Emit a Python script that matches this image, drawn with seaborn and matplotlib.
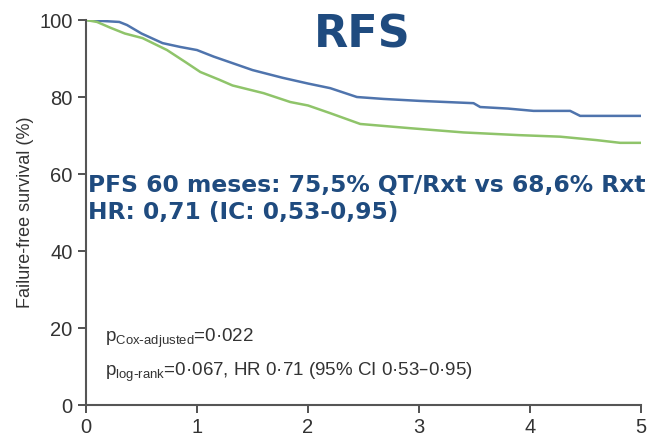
import pandas as pd
import matplotlib
matplotlib.use("Agg")
import matplotlib.pyplot as plt
import seaborn as sns

# Kaplan-Meier curves (years, % failure-free)
qt_rxt_time = [0, 0.30, 0.37, 0.50, 0.69, 0.85, 1.00, 1.15, 1.32, 1.50, 1.77, 2.00,
               2.20, 2.44, 2.68, 3.00, 3.49, 3.55, 3.80, 4.03, 4.36, 4.45, 5.00]
qt_rxt_surv = [100, 99.5, 98.7, 96.5, 94.0, 93.0, 92.2, 90.5, 88.8, 87.0, 85.0, 83.5,
               82.3, 80.0, 79.5, 79.0, 78.4, 77.4, 77.0, 76.4, 76.4, 75.1, 75.1]
rxt_time = [0, 0.10, 0.22, 0.35, 0.51, 0.73, 0.90, 1.03, 1.20, 1.32, 1.60, 1.84,
            2.00, 2.20, 2.47, 2.92, 3.40, 3.90, 4.27, 4.60, 4.81, 5.00]
rxt_surv = [100, 99.5, 98.0, 96.5, 95.3, 92.2, 89.0, 86.5, 84.5, 83.0, 81.0, 78.7,
            77.8, 75.8, 73.0, 71.9, 70.8, 70.1, 69.7, 68.8, 68.1, 68.1]

x_ticks = [0, 1, 2, 3, 4, 5]
y_ticks = [0, 20, 40, 60, 80, 100]

df = pd.concat([
    pd.DataFrame({"time": qt_rxt_time, "surv": qt_rxt_surv, "arm": "QT/Rxt"}),
    pd.DataFrame({"time": rxt_time, "surv": rxt_surv, "arm": "Rxt"}),
])

sns.set_theme(style="ticks")
plt.rcParams["font.family"] = ["Liberation Sans", "DejaVu Sans"]

fig = plt.figure(figsize=(6.51, 4.40), dpi=100)
ax = fig.add_axes([0.132, 0.0795, 0.853, 0.875])

palette = {"QT/Rxt": "#4f74ad", "Rxt": "#8fc46a"}
sns.lineplot(data=df, x="time", y="surv", hue="arm", palette=palette,
             linewidth=1.8, legend=False, ax=ax)

ax.set_xlim(0, 5)
ax.set_ylim(0, 100)
ax.set_xticks(x_ticks)
ax.set_yticks(y_ticks)
ax.tick_params(labelsize=14.5, colors="#333333", length=6, width=1.2)
ax.set_xlabel("")
ax.set_ylabel("Failure-free survival (%)", fontsize=13, color="#333333")
for side in ["left", "bottom"]:
    ax.spines[side].set_color("#555555")
    ax.spines[side].set_linewidth(1.5)
sns.despine(ax=ax)

blue = "#1f4b7f"
fig.text(0.557, 0.92, "RFS", fontsize=32, fontweight="bold", color=blue,
         ha="center", va="center", family="DejaVu Sans")
ax.text(0.02, 56.9, "PFS 60 meses: 75,5% QT/Rxt vs 68,6% Rxt", fontsize=16.8,
        fontweight="bold", color=blue, va="center", family="DejaVu Sans")
ax.text(0.02, 49.9, "HR: 0,71 (IC: 0,53-0,95)", fontsize=16.8,
        fontweight="bold", color=blue, va="center", family="DejaVu Sans")

ax.text(0.17, 17.4, r"p$_{\mathregular{Cox\text{-}adjusted}}$=0·022", fontsize=13.5,
        color="#333333", va="center")
ax.text(0.17, 8.6, r"p$_{\mathregular{log\text{-}rank}}$=0·067, HR 0·71 (95% CI 0·53–0·95)",
        fontsize=13.5, color="#333333", va="center")

fig.savefig("out.png", dpi=100)
